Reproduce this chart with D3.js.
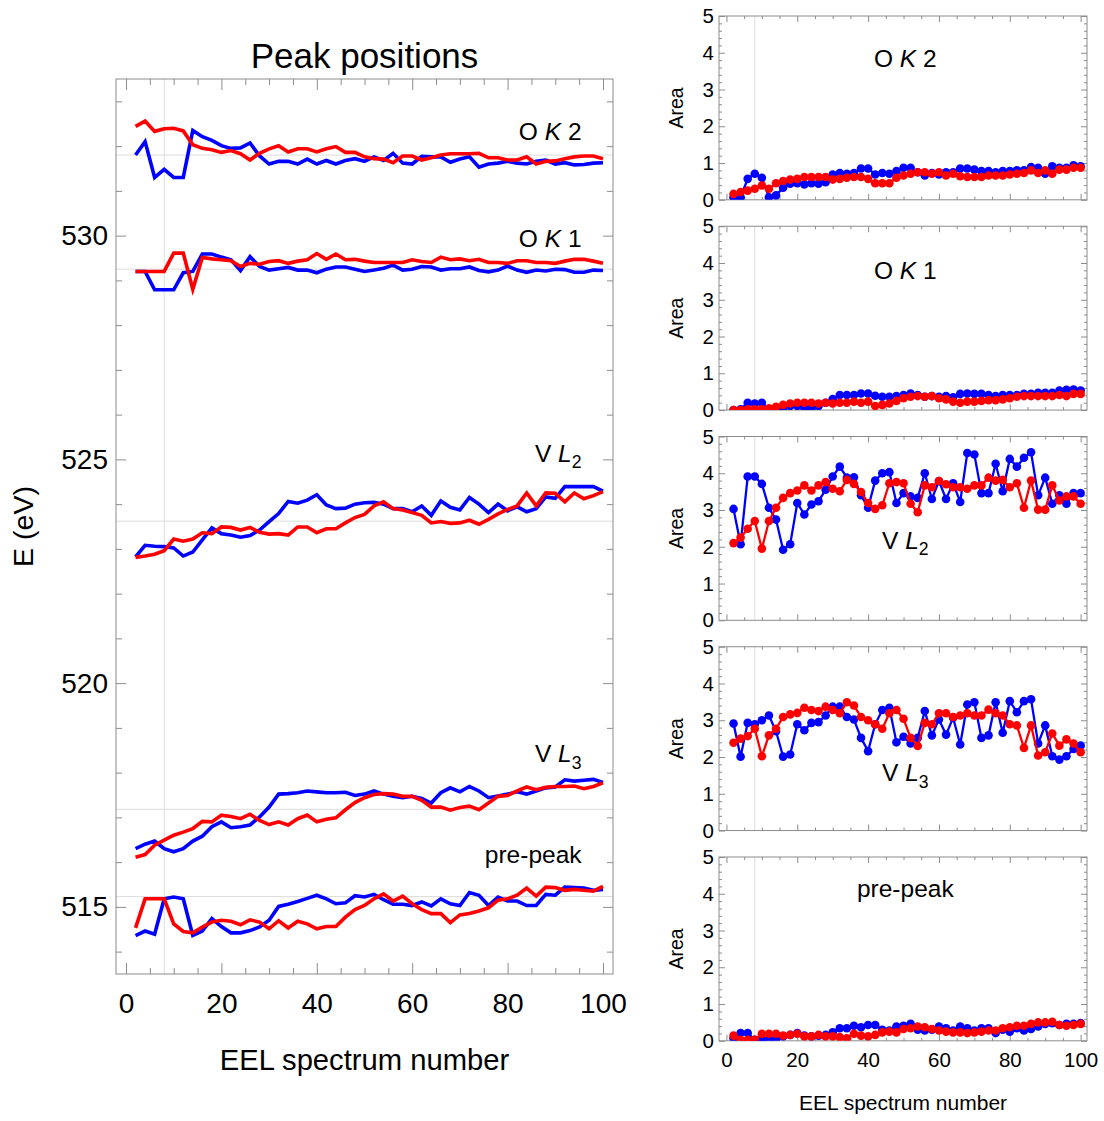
<!DOCTYPE html>
<html><head><meta charset="utf-8">
<script src="https://cdn.jsdelivr.net/npm/d3@7"></script>
<style>body{margin:0;background:#fff}svg text{font-family:"Liberation Sans",Arial,sans-serif}</style>
</head><body><svg id="c" width="1104" height="1121"></svg>
<script>
// ---------------- DATA ----------------
const spectrum = [2,4,6,8,10,12,14,16,18,20,22,24,26,28,30,32,34,36,38,40,42,44,46,48,50,52,54,56,58,60,62,64,66,68,70,72,74,76,78,80,82,84,86,88,90,92,94,96,98,100];

// Peak positions (eV) — blue / red
const posOK2Blue = [531.80,532.10,531.30,531.48,531.30,531.30,532.35,532.21,532.13,532.01,531.95,531.96,532.07,531.78,531.60,531.66,531.66,531.60,531.71,531.60,531.68,531.60,531.68,531.72,531.66,531.76,531.68,531.84,531.62,531.60,531.77,531.76,531.76,531.64,531.71,531.76,531.53,531.60,531.62,531.66,531.62,531.60,531.66,531.69,531.60,531.63,531.58,531.59,531.62,531.63];
const posOK2Red  = [532.44,532.56,532.33,532.39,532.40,532.34,532.03,531.95,531.92,531.86,531.90,531.83,531.69,531.84,531.94,532.01,531.87,531.94,531.94,531.87,531.94,531.99,531.86,531.86,531.76,531.72,531.71,531.63,531.78,531.78,531.69,531.74,531.80,531.83,531.83,531.83,531.84,531.74,531.74,531.69,531.69,531.76,531.60,531.66,531.67,531.72,531.76,531.78,531.78,531.72];
const posOK1Blue = [529.20,529.20,528.79,528.79,528.79,529.17,529.20,529.59,529.59,529.52,529.46,529.22,529.53,529.31,529.23,529.26,529.29,529.23,529.23,529.17,529.25,529.30,529.30,529.25,529.20,529.23,529.27,529.34,529.23,529.25,529.31,529.30,529.23,529.26,529.26,529.30,529.22,529.19,529.23,529.32,529.23,529.18,529.23,529.21,529.25,529.24,529.18,529.18,529.23,529.22];
const posOK1Red  = [529.20,529.20,529.20,529.20,529.61,529.61,528.80,529.51,529.48,529.46,529.44,529.31,529.38,529.36,529.42,529.44,529.38,529.43,529.46,529.60,529.47,529.59,529.46,529.47,529.43,529.40,529.40,529.40,529.40,529.46,529.42,529.40,529.52,529.46,529.48,529.44,529.47,529.40,529.40,529.38,529.44,529.44,529.40,529.40,529.38,529.43,529.47,529.47,529.43,529.38];
const posVL2Blue = [522.82,523.08,523.06,523.05,523.02,522.84,522.93,523.20,523.47,523.34,523.31,523.26,523.30,523.42,523.61,523.79,524.06,524.02,524.09,524.21,523.98,523.90,523.91,524.00,524.03,524.04,524.00,523.90,523.90,523.83,523.96,523.75,524.07,523.93,523.87,524.15,524.00,523.81,524.00,523.85,523.94,523.83,523.90,524.16,524.13,524.39,524.39,524.39,524.39,524.29];
const posVL2Red  = [522.81,522.84,522.88,522.96,523.22,523.17,523.22,523.36,523.34,523.49,523.48,523.42,523.48,523.37,523.33,523.34,523.31,523.49,523.49,523.36,523.45,523.45,523.58,523.70,523.77,523.96,524.05,523.90,523.87,523.81,523.75,523.58,523.61,523.57,523.58,523.64,523.55,523.66,523.78,523.88,523.96,524.25,523.96,524.25,524.24,524.05,524.25,524.12,524.19,524.28];
const posVL3Blue = [516.30,516.40,516.47,516.30,516.23,516.30,516.47,516.58,516.79,516.90,516.77,516.79,516.83,517.01,517.23,517.52,517.53,517.55,517.59,517.57,517.55,517.55,517.56,517.49,517.52,517.59,517.52,517.47,517.44,517.47,517.42,517.32,517.55,517.66,517.57,517.69,517.59,517.44,517.48,517.52,517.57,517.52,517.59,517.66,517.68,517.84,517.81,517.83,517.85,517.78];
const posVL3Red  = [516.11,516.17,516.38,516.49,516.60,516.67,516.75,516.91,516.90,517.05,517.02,516.97,517.07,516.93,516.84,516.90,516.83,516.97,517.05,516.90,516.96,516.99,517.17,517.33,517.44,517.51,517.53,517.52,517.47,517.47,517.38,517.23,517.23,517.16,517.22,517.25,517.17,517.32,517.47,517.49,517.59,517.68,517.62,517.67,517.69,517.69,517.70,517.64,517.69,517.77];
const posPreBlue = [514.36,514.46,514.39,515.18,515.22,515.18,514.36,514.46,514.74,514.56,514.42,514.42,514.47,514.55,514.70,515.01,515.06,515.12,515.19,515.26,515.18,515.07,515.09,515.25,515.22,515.28,515.16,515.06,515.06,515.03,515.11,515.02,515.18,515.07,515.03,515.32,515.26,515.03,515.22,515.13,515.13,515.03,515.03,515.28,515.26,515.44,515.43,515.42,515.37,515.39];
const posPreRed  = [514.53,515.18,515.18,515.18,514.62,514.45,514.42,514.55,514.66,514.70,514.68,514.60,514.71,514.66,514.51,514.69,514.53,514.68,514.62,514.51,514.56,514.56,514.77,514.94,515.03,515.18,515.29,515.13,515.24,515.07,514.94,514.85,514.85,514.65,514.82,514.85,514.91,514.98,515.15,515.18,515.26,515.42,515.24,515.44,515.43,515.37,515.39,515.37,515.35,515.46];
// reference (guide) energies
const posGuides = [531.80, 529.25, 523.62, 517.18, 515.23];

// Areas — blue / red
const areaOK2Blue = [0.07,0.07,0.57,0.71,0.60,0.07,0.12,0.33,0.44,0.45,0.42,0.45,0.44,0.48,0.69,0.73,0.71,0.73,0.85,0.85,0.69,0.73,0.71,0.78,0.87,0.87,0.75,0.66,0.73,0.69,0.75,0.75,0.85,0.85,0.82,0.78,0.78,0.75,0.78,0.78,0.80,0.80,0.89,0.87,0.71,0.91,0.87,0.87,0.94,0.91];
const areaOK2Red  = [0.16,0.21,0.25,0.30,0.39,0.30,0.45,0.51,0.55,0.57,0.62,0.62,0.62,0.62,0.55,0.57,0.60,0.62,0.62,0.57,0.45,0.45,0.45,0.60,0.66,0.71,0.75,0.75,0.71,0.75,0.66,0.71,0.64,0.62,0.62,0.62,0.66,0.66,0.66,0.69,0.71,0.73,0.80,0.73,0.80,0.71,0.82,0.82,0.87,0.87];
const areaOK1Blue = [0.00,0.02,0.20,0.18,0.20,0.02,0.02,0.05,0.11,0.11,0.06,0.06,0.11,0.20,0.30,0.41,0.41,0.41,0.45,0.45,0.39,0.36,0.36,0.38,0.41,0.45,0.41,0.36,0.38,0.36,0.38,0.35,0.44,0.45,0.44,0.44,0.41,0.38,0.41,0.41,0.41,0.44,0.44,0.47,0.47,0.47,0.53,0.55,0.56,0.53];
const areaOK1Red  = [0.00,0.00,0.02,0.02,0.02,0.05,0.09,0.14,0.18,0.20,0.20,0.20,0.18,0.20,0.18,0.20,0.20,0.23,0.20,0.23,0.11,0.14,0.18,0.25,0.32,0.36,0.38,0.36,0.38,0.32,0.29,0.23,0.20,0.23,0.23,0.25,0.27,0.27,0.29,0.32,0.36,0.38,0.38,0.38,0.38,0.38,0.41,0.38,0.44,0.44];
const areaVL2Blue = [3.03,2.07,3.91,3.91,3.71,3.06,2.74,1.92,2.07,3.19,2.88,3.15,3.24,3.55,3.91,4.18,3.88,3.89,3.40,3.06,3.80,4.00,4.03,3.19,3.46,3.37,3.33,4.00,3.30,3.79,3.30,3.73,3.22,4.55,4.51,3.46,3.46,4.26,3.51,4.39,4.18,4.42,4.57,3.40,3.88,3.17,3.40,3.17,3.46,3.46];
const areaVL2Red  = [2.10,2.25,2.49,2.70,1.95,2.70,3.06,3.33,3.46,3.53,3.67,3.53,3.67,3.76,3.58,3.51,3.82,3.71,3.49,3.19,3.03,3.13,3.73,3.76,3.73,3.17,2.94,3.67,3.62,3.79,3.70,3.62,3.62,3.58,3.67,3.67,3.88,3.80,3.82,3.62,3.73,3.06,3.80,3.01,3.01,3.67,3.26,3.37,3.37,3.17];
const areaVL3Blue = [2.91,2.01,2.93,2.89,3.00,3.13,2.70,2.01,2.07,2.89,2.73,2.93,2.95,3.13,3.37,3.37,3.09,3.02,2.52,2.16,2.89,3.28,3.34,2.40,2.55,2.37,2.52,3.25,2.59,3.02,2.61,3.07,2.34,3.43,3.49,2.52,2.59,3.49,2.66,3.52,3.22,3.52,3.57,2.37,2.86,2.02,1.93,2.02,2.22,2.31];
const areaVL3Red  = [2.39,2.50,2.57,2.77,2.02,2.59,2.77,3.09,3.16,3.20,3.34,3.28,3.25,3.37,3.28,3.19,3.49,3.40,3.09,3.00,2.89,2.77,3.19,3.28,3.04,2.52,2.30,2.93,2.89,3.19,3.19,3.09,3.13,3.19,3.13,3.13,3.29,3.19,3.13,2.89,2.86,2.25,2.86,2.04,2.13,2.64,2.31,2.48,2.37,2.13];
const areaPreBlue = [0.07,0.21,0.21,0.03,0.03,0.05,0.05,0.12,0.16,0.21,0.14,0.12,0.14,0.16,0.23,0.34,0.34,0.41,0.37,0.43,0.43,0.30,0.28,0.39,0.41,0.46,0.30,0.28,0.30,0.39,0.34,0.28,0.39,0.34,0.28,0.34,0.34,0.21,0.30,0.25,0.34,0.28,0.32,0.39,0.46,0.48,0.43,0.46,0.46,0.48];
const areaPreRed  = [0.14,0.03,0.03,0.03,0.19,0.19,0.19,0.14,0.16,0.19,0.12,0.12,0.16,0.12,0.12,0.10,0.07,0.19,0.14,0.12,0.16,0.23,0.25,0.23,0.32,0.34,0.39,0.37,0.32,0.28,0.25,0.23,0.23,0.21,0.23,0.25,0.28,0.28,0.34,0.37,0.41,0.41,0.46,0.50,0.50,0.52,0.43,0.41,0.43,0.46];

const markerSpectrum = 8;
const xTickLabels = [0,20,40,60,80,100];
const xMinorTicks = [5,10,15,25,30,35,45,50,55,65,70,75,85,90,95];
const eTickLabels = [515,520,525,530];
const eMinorTicks = [514,516,517,518,519,521,522,523,524,526,527,528,529,531,532,533];
const areaTickLabels = [0,1,2,3,4,5];
const areaMinorTicks = [0.2,0.4,0.6,0.8,1.2,1.4,1.6,1.8,2.2,2.4,2.6,2.8,3.2,3.4,3.6,3.8,4.2,4.4,4.6,4.8];

// labels: [prefix, italic, rest, isSubscript]
const peakLabels = [
  ["O ", "K", " 2", false],
  ["O ", "K", " 1", false],
  ["V ", "L", "2", true],
  ["V ", "L", "3", true],
  ["pre-peak", "", "", false]
];
// ---------------- DRAWING ----------------
const BLUE = "#0000ff", RED = "#ff0000", FRAME = "#8c8c8c", GRID = "#dcdcdc";
const svg = d3.select("#c");

function styleAxis(sel, fs) {
  sel.select(".domain").remove();
  sel.selectAll("line").attr("stroke", FRAME).attr("stroke-width", 1);
  sel.selectAll("text").attr("font-size", fs).attr("fill", "#000")
     .attr("font-family", '"Liberation Sans", Arial, sans-serif');
}
function addLabel(g, lab, x, y, anchor, fs) {
  const t = g.append("text").attr("x", x).attr("y", y).attr("text-anchor", anchor)
     .attr("font-size", fs).attr("fill", "#000");
  t.append("tspan").text(lab[0]);
  if (lab[1]) t.append("tspan").attr("font-style", "italic").text(lab[1]);
  if (lab[2]) {
    if (lab[3]) t.append("tspan").attr("font-size", fs * 0.72).attr("dy", fs * 0.28).text(lab[2]);
    else t.append("tspan").text(lab[2]);
  }
}

// ---- Left panel ----
const L = {x0: 116, x1: 613, y0: 79, y1: 974};
const xL = d3.scaleLinear().domain([-2.1, 102.1]).range([L.x0, L.x1]);
const yL = d3.scaleLinear().domain([513.5, 533.5]).range([L.y1, L.y0]);
const gL = svg.append("g");

gL.append("line").attr("x1", xL(markerSpectrum)).attr("x2", xL(markerSpectrum))
  .attr("y1", L.y0).attr("y2", L.y1).attr("stroke", GRID);
gL.selectAll("line.guide").data(posGuides).join("line").attr("class", "guide")
  .attr("x1", L.x0).attr("x2", L.x1).attr("y1", d => yL(d)).attr("y2", d => yL(d)).attr("stroke", GRID);

styleAxis(gL.append("g").attr("transform", `translate(0,${L.y1})`)
  .call(d3.axisBottom(xL).tickValues(xTickLabels).tickSize(-11).tickPadding(19).tickFormat(d3.format("d"))), 28);
styleAxis(gL.append("g").attr("transform", `translate(0,${L.y1})`)
  .call(d3.axisBottom(xL).tickValues(xMinorTicks).tickSize(-6).tickFormat("")), 28);
styleAxis(gL.append("g").attr("transform", `translate(0,${L.y0})`)
  .call(d3.axisTop(xL).tickValues(xTickLabels).tickSize(-11).tickFormat("")), 28);
styleAxis(gL.append("g").attr("transform", `translate(0,${L.y0})`)
  .call(d3.axisTop(xL).tickValues(xMinorTicks).tickSize(-6).tickFormat("")), 28);
styleAxis(gL.append("g").attr("transform", `translate(${L.x0},0)`)
  .call(d3.axisLeft(yL).tickValues(eTickLabels).tickSize(-10).tickPadding(8).tickFormat(d3.format("d"))), 28);
styleAxis(gL.append("g").attr("transform", `translate(${L.x0},0)`)
  .call(d3.axisLeft(yL).tickValues(eMinorTicks).tickSize(-6).tickFormat("")), 28);
styleAxis(gL.append("g").attr("transform", `translate(${L.x1},0)`)
  .call(d3.axisRight(yL).tickValues(eTickLabels).tickSize(-10).tickFormat("")), 28);
styleAxis(gL.append("g").attr("transform", `translate(${L.x1},0)`)
  .call(d3.axisRight(yL).tickValues(eMinorTicks).tickSize(-6).tickFormat("")), 28);

gL.append("rect").attr("x", L.x0).attr("y", L.y0).attr("width", L.x1 - L.x0).attr("height", L.y1 - L.y0)
  .attr("fill", "none").attr("stroke", FRAME);

const lineL = d3.line().x((d, i) => xL(spectrum[i])).y(d => yL(d));
const leftPairs = [[posOK2Blue, posOK2Red], [posOK1Blue, posOK1Red], [posVL2Blue, posVL2Red], [posVL3Blue, posVL3Red], [posPreBlue, posPreRed]];
leftPairs.forEach(([b, r]) => {
  gL.append("path").attr("d", lineL(b)).attr("fill", "none").attr("stroke", BLUE).attr("stroke-width", 3.6);
  gL.append("path").attr("d", lineL(r)).attr("fill", "none").attr("stroke", RED).attr("stroke-width", 3.6);
});

const leftLabelE = [532.14, 529.75, 524.95, 518.24, 515.97];
peakLabels.forEach((lab, i) => addLabel(gL, lab, xL(95.5), yL(leftLabelE[i]), "end", 24.5));

gL.append("text").attr("x", (L.x0 + L.x1) / 2).attr("y", 68).attr("text-anchor", "middle")
  .attr("font-size", 35).text("Peak positions");
gL.append("text").attr("x", (L.x0 + L.x1) / 2).attr("y", 1070).attr("text-anchor", "middle")
  .attr("font-size", 29.2).text("EEL spectrum number");
gL.append("text").attr("transform", `translate(33,${(L.y0 + L.y1) / 2}) rotate(-90)`).attr("text-anchor", "middle")
  .attr("font-size", 28.5).text("E (eV)");

// ---- Right panels ----
const R = {x0: 719, x1: 1087, top0: 16, step: 210.25, h: 183.8};
const xR = d3.scaleLinear().domain([-2.1, 101.8]).range([R.x0, R.x1]);
const rightPairs = [[areaOK2Blue, areaOK2Red], [areaOK1Blue, areaOK1Red], [areaVL2Blue, areaVL2Red], [areaVL3Blue, areaVL3Red], [areaPreBlue, areaPreRed]];
const rightLabelA = [3.6, 3.56, 1.95, 1.34, 3.92];
const defs = svg.append("defs");

rightPairs.forEach(([b, r], k) => {
  const top = R.top0 + k * R.step, bot = top + R.h;
  const yR = d3.scaleLinear().domain([0, 5]).range([bot, top]);
  const g = svg.append("g");
  defs.append("clipPath").attr("id", "clip" + k).append("rect")
    .attr("x", R.x0).attr("y", top).attr("width", R.x1 - R.x0).attr("height", R.h);

  g.append("line").attr("x1", xR(markerSpectrum)).attr("x2", xR(markerSpectrum))
    .attr("y1", top).attr("y2", bot).attr("stroke", GRID);

  styleAxis(g.append("g").attr("transform", `translate(0,${bot})`)
    .call(d3.axisBottom(xR).tickValues(xTickLabels).tickSize(-6).tickPadding(12)
      .tickFormat(k === 4 ? d3.format("d") : "")), 20.5);
  styleAxis(g.append("g").attr("transform", `translate(0,${bot})`)
    .call(d3.axisBottom(xR).tickValues(xMinorTicks).tickSize(-3).tickFormat("")), 20);
  styleAxis(g.append("g").attr("transform", `translate(0,${top})`)
    .call(d3.axisTop(xR).tickValues(xTickLabels).tickSize(-6).tickFormat("")), 20);
  styleAxis(g.append("g").attr("transform", `translate(0,${top})`)
    .call(d3.axisTop(xR).tickValues(xMinorTicks).tickSize(-3).tickFormat("")), 20);
  styleAxis(g.append("g").attr("transform", `translate(${R.x0},0)`)
    .call(d3.axisLeft(yR).tickValues(areaTickLabels).tickSize(-6).tickPadding(5).tickFormat(d3.format("d"))), 20.5);
  styleAxis(g.append("g").attr("transform", `translate(${R.x0},0)`)
    .call(d3.axisLeft(yR).tickValues(areaMinorTicks).tickSize(-3).tickFormat("")), 20);
  styleAxis(g.append("g").attr("transform", `translate(${R.x1},0)`)
    .call(d3.axisRight(yR).tickValues(areaTickLabels).tickSize(-6).tickFormat("")), 20);
  styleAxis(g.append("g").attr("transform", `translate(${R.x1},0)`)
    .call(d3.axisRight(yR).tickValues(areaMinorTicks).tickSize(-3).tickFormat("")), 20);

  g.append("rect").attr("x", R.x0).attr("y", top).attr("width", R.x1 - R.x0).attr("height", R.h)
    .attr("fill", "none").attr("stroke", FRAME);

  const line = d3.line().x((d, i) => xR(spectrum[i])).y(d => yR(d));
  const pg = g.append("g").attr("clip-path", `url(#clip${k})`);
  [[b, BLUE], [r, RED]].forEach(([vals, col]) => {
    pg.append("path").attr("d", line(vals)).attr("fill", "none").attr("stroke", col).attr("stroke-width", 2.3);
    pg.selectAll(null).data(vals).join("circle")
      .attr("cx", (d, i) => xR(spectrum[i])).attr("cy", d => yR(d)).attr("r", 4.3).attr("fill", col);
  });

  addLabel(g, peakLabels[k], xR(50.5), yR(rightLabelA[k]), "middle", 24.5);
  g.append("text").attr("transform", `translate(683,${(top + bot) / 2}) rotate(-90)`)
    .attr("text-anchor", "middle").attr("font-size", 19.5).text("Area");
});

svg.append("text").attr("x", (R.x0 + R.x1) / 2).attr("y", 1110).attr("text-anchor", "middle")
  .attr("font-size", 21).text("EEL spectrum number");
</script>
</body></html>
